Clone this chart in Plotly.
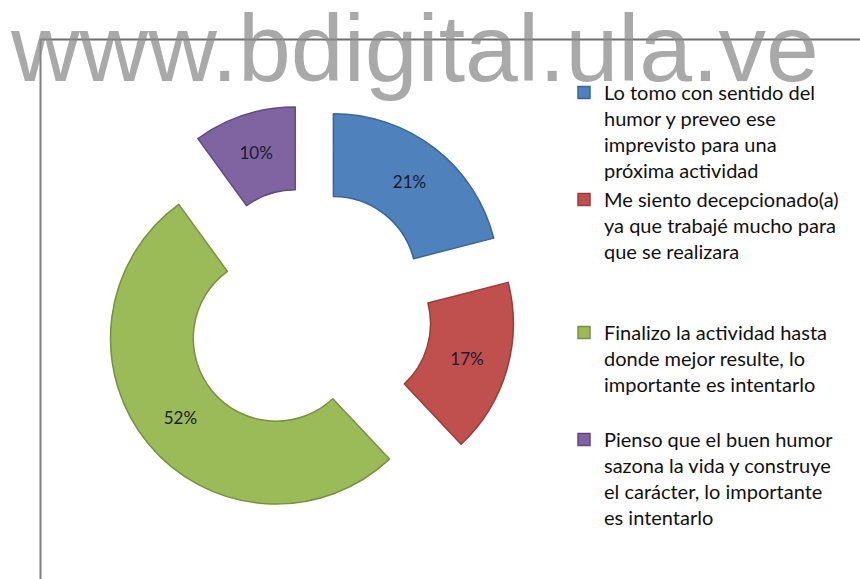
import plotly.graph_objects as go

W, H = 860, 579

labels = [
    "Lo tomo con sentido del<br>humor y preveo ese<br>imprevisto para una<br>próxima actividad",
    "Me siento decepcionado(a)<br>ya que trabajé mucho para<br>que se realizara<br> <br> ",
    "Finalizo la actividad hasta<br>donde mejor resulte, lo<br>importante es intentarlo<br> ",
    "Pienso que el buen humor<br>sazona la vida y construye<br>el carácter, lo importante<br>es intentarlo",
]
values = [21, 17, 52, 10]
colors = ["#4F81BD", "#C0504D", "#9BBB59", "#8064A2"]
edge_colors = ["#3A6598", "#983C39", "#76913F", "#5E4A7D"]

def px_x(p):
    return p / W

def px_y(p):
    return 1 - p / H

fig = go.Figure(go.Pie(
    labels=labels,
    values=values,
    hole=0.5,
    pull=0.25,
    sort=False,
    direction="clockwise",
    rotation=0,
    marker=dict(colors=colors, line=dict(color=edge_colors, width=1.5)),
    textinfo="percent",
    texttemplate="%{percent:.0%}",
    textposition="inside",
    insidetextorientation="horizontal",
    textfont=dict(family="Lato", size=17, color="#1a1a2a"),
    domain=dict(x=[px_x(101), px_x(515)], y=[px_y(519), px_y(105)]),
))

fig.update_layout(
    width=W, height=H,
    margin=dict(l=0, r=0, t=0, b=0),
    paper_bgcolor="white",
    showlegend=True,
    legend=dict(
        x=px_x(564), y=px_y(73), xanchor="left", yanchor="top",
        valign="top",
        font=dict(family="Lato", size=20, color="#111111"),
        bgcolor="rgba(0,0,0,0)",
    ),
    shapes=[
        dict(type="line", xref="paper", yref="paper",
             x0=px_x(40), x1=1, y0=px_y(39.5), y1=px_y(39.5),
             line=dict(color="#6e6e6e", width=2)),
        dict(type="line", xref="paper", yref="paper",
             x0=px_x(40.5), x1=px_x(40.5), y0=px_y(39), y1=0,
             line=dict(color="#808080", width=2)),
    ],
    annotations=[
        dict(text="www.bdigital.ula.ve", xref="paper", yref="paper",
             x=px_x(8), y=px_y(103), xanchor="left", yanchor="bottom",
             showarrow=False,
             font=dict(family="Liberation Sans", size=95,
                       color="rgba(140,140,140,0.75)")),
    ],
)

fig.write_html("out.html", config={"displayModeBar": False},
               post_script="document.body.style.margin='0';")
